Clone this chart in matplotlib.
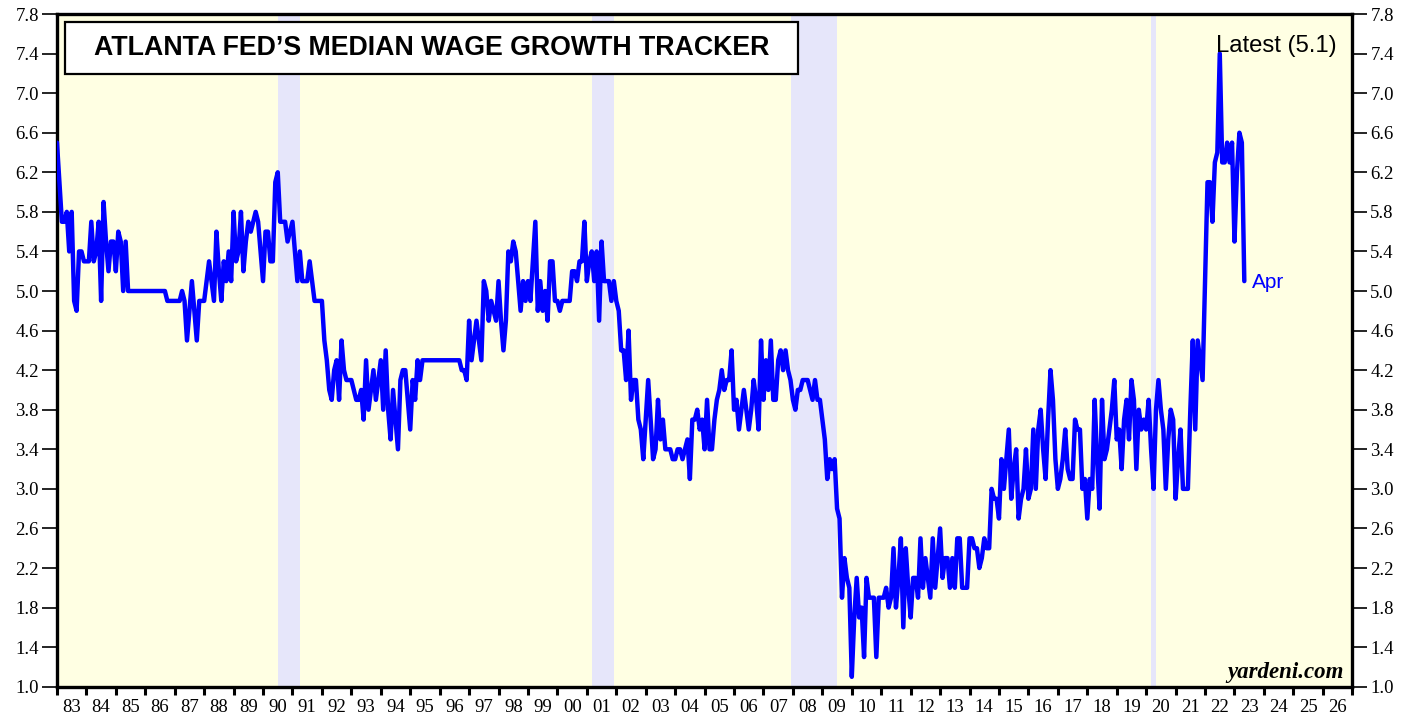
import numpy as np
import matplotlib
matplotlib.use("Agg")
import matplotlib.pyplot as plt
from matplotlib.patches import Rectangle

# monthly median wage growth (%), starting Jan 1983
wage_1983_1989 = [
    6.5, 6.1, 5.7, 5.7, 5.8, 5.4, 5.8, 4.9, 4.8, 5.4, 5.4, 5.3,
    5.3, 5.3, 5.7, 5.3, 5.4, 5.7, 4.9, 5.9, 5.5, 5.2, 5.5, 5.5,
    5.2, 5.6, 5.5, 5.0, 5.5, 5.0, 5.0, 5.0, 5.0, 5.0, 5.0, 5.0,
    5.0, 5.0, 5.0, 5.0, 5.0, 5.0, 5.0, 5.0, 5.0, 4.9, 4.9, 4.9,
    4.9, 4.9, 4.9, 5.0, 4.9, 4.5, 4.8, 5.1, 4.8, 4.5, 4.9, 4.9,
    4.9, 5.1, 5.3, 5.1, 4.9, 5.6, 5.2, 4.9, 5.3, 5.1, 5.4, 5.1,
    5.8, 5.3, 5.4, 5.8, 5.2, 5.5, 5.7, 5.6, 5.7, 5.8, 5.7, 5.4,
]
wage_1990_1999 = [
    5.1, 5.6, 5.6, 5.3, 5.3, 6.1, 6.2, 5.7, 5.7, 5.7, 5.5, 5.6,
    5.7, 5.4, 5.1, 5.4, 5.1, 5.1, 5.1, 5.3, 5.1, 4.9, 4.9, 4.9,
    4.9, 4.5, 4.3, 4.0, 3.9, 4.2, 4.3, 3.9, 4.5, 4.2, 4.1, 4.1,
    4.1, 4.0, 3.9, 3.9, 4.0, 3.7, 4.3, 3.8, 4.0, 4.2, 3.9, 4.1,
    4.3, 3.8, 4.4, 3.8, 3.5, 4.0, 3.7, 3.4, 4.1, 4.2, 4.2, 3.9,
    3.6, 4.1, 3.9, 4.3, 4.1, 4.3, 4.3, 4.3, 4.3, 4.3, 4.3, 4.3,
    4.3, 4.3, 4.3, 4.3, 4.3, 4.3, 4.3, 4.3, 4.3, 4.2, 4.2, 4.1,
    4.7, 4.3, 4.5, 4.7, 4.5, 4.3, 5.1, 5.0, 4.7, 4.9, 4.8, 4.7,
    5.1, 4.7, 4.4, 4.7, 5.4, 5.3, 5.5, 5.4, 5.1, 4.8, 5.1, 4.9,
    5.1, 4.9, 5.3, 5.7, 4.8, 5.1, 4.8, 5.0, 4.7, 5.3, 5.3, 4.9,
]
wage_2000_2009 = [
    4.9, 4.8, 4.9, 4.9, 4.9, 4.9, 5.2, 5.2, 5.1, 5.3, 5.3, 5.7,
    5.1, 5.3, 5.4, 5.1, 5.4, 4.7, 5.5, 5.1, 5.1, 5.1, 4.9, 5.1,
    4.9, 4.8, 4.4, 4.4, 4.1, 4.6, 3.9, 4.1, 4.1, 3.7, 3.6, 3.3,
    3.7, 4.1, 3.7, 3.3, 3.4, 3.9, 3.5, 3.7, 3.4, 3.4, 3.4, 3.3,
    3.3, 3.4, 3.4, 3.3, 3.4, 3.5, 3.1, 3.7, 3.7, 3.8, 3.6, 3.7,
    3.4, 3.9, 3.4, 3.4, 3.7, 3.9, 4.0, 4.2, 4.0, 4.1, 4.1, 4.4,
    3.8, 3.9, 3.6, 3.8, 4.0, 3.8, 3.6, 3.8, 4.1, 3.9, 3.6, 4.5,
    3.9, 4.3, 4.0, 4.5, 3.9, 3.9, 4.3, 4.4, 4.2, 4.4, 4.2, 4.1,
    3.9, 3.8, 4.0, 4.0, 4.1, 4.1, 4.1, 4.0, 3.9, 4.1, 3.9, 3.9,
    3.7, 3.5, 3.1, 3.3, 3.2, 3.3, 2.8, 2.7, 1.9, 2.3, 2.1, 2.0,
]
wage_2010_2019 = [
    1.1, 1.7, 2.1, 1.7, 1.8, 1.3, 2.1, 1.9, 1.9, 1.9, 1.3, 1.9,
    1.9, 1.9, 2.0, 1.8, 1.9, 2.4, 1.8, 2.1, 2.5, 1.6, 2.4, 2.0,
    1.7, 2.1, 2.1, 1.9, 2.5, 2.0, 2.3, 2.1, 1.9, 2.5, 2.0, 2.3,
    2.6, 2.1, 2.3, 2.3, 2.0, 2.3, 2.0, 2.5, 2.5, 2.0, 2.0, 2.0,
    2.5, 2.5, 2.4, 2.4, 2.2, 2.3, 2.5, 2.4, 2.4, 3.0, 2.9, 2.9,
    2.7, 3.3, 3.0, 3.3, 3.6, 2.9, 3.2, 3.4, 2.7, 2.9, 3.0, 3.4,
    2.9, 3.0, 3.6, 3.0, 3.6, 3.8, 3.4, 3.1, 3.7, 4.2, 3.9, 3.3,
    3.0, 3.1, 3.3, 3.6, 3.2, 3.1, 3.1, 3.7, 3.6, 3.6, 3.0, 3.1,
    2.7, 3.1, 3.0, 3.9, 3.3, 2.8, 3.9, 3.3, 3.4, 3.6, 3.8, 4.1,
    3.5, 3.6, 3.2, 3.7, 3.9, 3.5, 4.1, 3.9, 3.2, 3.8, 3.6, 3.7,
]
wage_2020_2023 = [
    3.6, 3.9, 3.4, 3.0, 3.8, 4.1, 3.8, 3.6, 3.0, 3.5, 3.8, 3.7,
    2.9, 3.3, 3.6, 3.0, 3.0, 3.0, 3.8, 4.5, 3.6, 4.5, 4.3, 4.1,
    5.1, 6.1, 6.1, 5.7, 6.3, 6.4, 7.4, 6.3, 6.3, 6.5, 6.3, 6.5,
    5.5, 6.2, 6.6, 6.5, 5.1,
]

rec_start = [1990.5, 2001.17, 2007.92, 2020.17]
rec_end = [1991.25, 2001.92, 2009.5, 2020.33]

years = list(range(1983, 2027))
year_labels = ["%02d" % (y % 100) for y in years]
y_ticks = [round(1.0 + 0.4 * i, 1) for i in range(18)]

wage = np.array(wage_1983_1989 + wage_1990_1999 + wage_2000_2009
                + wage_2010_2019 + wage_2020_2023)
dates = 1983 + np.arange(len(wage)) / 12.0

plt.rcParams["font.family"] = ["Liberation Serif", "DejaVu Serif"]
sans = ["Liberation Sans", "DejaVu Sans"]

fig = plt.figure(figsize=(14.17, 7.19), dpi=100)
ax = fig.add_axes([0.0402, 0.0449, 0.9141, 0.9356])
ax.set_facecolor("#FFFFE3")

for s, e in zip(rec_start, rec_end):
    ax.axvspan(s, e, color="#E6E6FA", lw=0, zorder=1)

ax.plot(dates, wage, color="#0000FF", lw=3.2, zorder=3,
        solid_joinstyle="round", solid_capstyle="round")

ax.set_xlim(1983, 2027)
ax.set_ylim(1.0, 7.8)

ax.set_xticks(years + [2027])
ax.set_xticklabels([])
ax.set_xticks([y + 0.5 for y in years], minor=True)
ax.set_xticklabels(year_labels, minor=True)
ax.tick_params(axis="x", which="major", length=6, width=2.2, direction="out")
ax.tick_params(axis="x", which="minor", length=0, pad=9, labelsize=13.5)

ax.set_yticks(y_ticks)
ax.set_yticklabels(["%.1f" % v for v in y_ticks])
ax.tick_params(axis="y", length=11, width=1.2, labelsize=13.5, pad=2,
               left=True, right=True, labelleft=True, labelright=True)

for sp in ax.spines.values():
    sp.set_linewidth(2.4)

# title box
ax.add_patch(Rectangle((0.0062, 0.9108), 0.566, 0.0773, transform=ax.transAxes,
                       facecolor="white", edgecolor="black", lw=1.6, zorder=5))
ax.text(0.2896, 0.949, "ATLANTA FED\u2019S MEDIAN WAGE GROWTH TRACKER",
        transform=ax.transAxes, ha="center", va="center", fontsize=19.3,
        fontweight="bold", family=sans, zorder=6)

ax.text(2022.36, 7.42, "Latest (5.1)", ha="left", va="baseline",
        fontsize=17.2, family=sans, zorder=6)
ax.text(2023.58, 5.03, "Apr", color="#0000FF", ha="left", va="baseline",
        fontsize=15, family=sans, zorder=6)

ax.text(0.9935, 0.013, "yardeni.com", transform=ax.transAxes, ha="right",
        va="baseline", fontsize=16.5, fontweight="bold", fontstyle="italic", zorder=6)

fig.savefig("out.png", dpi=100)
